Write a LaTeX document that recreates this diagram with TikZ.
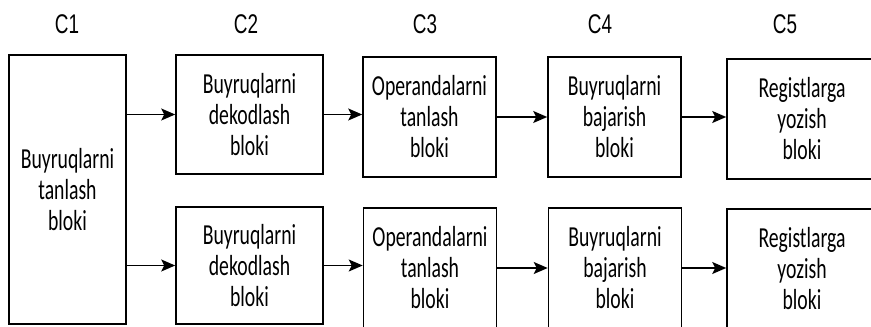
\documentclass[tikz,border=0pt]{standalone}
\usepackage{fontspec}
\usetikzlibrary{positioning, calc, arrows.meta}
\newfontfamily\bloccofont{Carlito}[FakeStretch=0.68]
\newfontfamily\stadiofont{Liberation Sans}[FakeStretch=0.7]

\begin{document}
\begin{tikzpicture}[x=0.5pt,y=0.5pt,
        blocco/.style={draw, line width=0.8pt, rectangle, align=center, inner sep=0pt,
            font=\bloccofont\fontsize{14.5pt}{15.5pt}\selectfont},
        stadio/.style={font=\stadiofont\fontsize{13.5pt}{15pt}\selectfont},
        freccia/.style={line width=0.8pt, -{Stealth[length=7pt,width=6pt,inset=1.5pt]}}]
        \useasboundingbox (0,0) rectangle (871,326);
        \clip (0,0) rectangle (871,326);
        %etichette stadi
            \node[stadio] (s1) at (67,302) {C1};
            \node[stadio] (s2) at (246,302) {C2};
            \node[stadio] (s3) at (425,302) {C3};
            \node[stadio] (s4) at (600,302) {C4};
            \node[stadio] (s5) at (785,302) {C5};
        %blocco iniziale
            \node[blocco, minimum width=58.5pt, minimum height=134.5pt] (c1) at (67.5,136.5) {Buyruqlarni\\tanlash\\bloki};
        %riga superiore
            \node[blocco, minimum width=73.5pt, minimum height=59.5pt] (c2a) at (249.5,211.5) {Buyruqlarni\\dekodlash\\bloki};
            \node[blocco, minimum width=66.5pt, minimum height=60pt] (c3a) at (429.5,209) {Operandalarni\\tanlash\\bloki};
            \node[blocco, minimum width=66.5pt, minimum height=60pt] (c4a) at (614.5,209) {Buyruqlarni\\bajarish\\bloki};
            \node[blocco, minimum width=75pt, minimum height=60pt] (c5a) at (802,207) {Registlarga\\yozish\\bloki};
        %riga inferiore
            \node[blocco, minimum width=73.5pt, minimum height=58.5pt] (c2b) at (249.5,60.5) {Buyruqlarni\\dekodlash\\bloki};
            \node[blocco, minimum width=66.5pt, minimum height=60pt] (c3b) at (430,58) {Operandalarni\\tanlash\\bloki};
            \node[blocco, minimum width=66.5pt, minimum height=60pt] (c4b) at (615,58) {Buyruqlarni\\bajarish\\bloki};
            \node[blocco, minimum width=75pt, minimum height=60pt] (c5b) at (802,57) {Registlarga\\yozish\\bloki};
        %collegamenti
            \draw[freccia] (c1.east |- c2a.west) -- (c2a.west);
            \draw[freccia] (c1.east |- c2b.west) -- (c2b.west);
            \draw[freccia] (c2a.east) -- (c2a.east -| c3a.west);
            \draw[freccia] (c2b.east) -- (c2b.east -| c3b.west);
            \draw[freccia] (c3a.east) -- (c3a.east -| c4a.west);
            \draw[freccia] (c3b.east) -- (c3b.east -| c4b.west);
            \draw[freccia] (c4a.east) -- (c4a.east -| c5a.west);
            \draw[freccia] (c4b.east) -- (c4b.east -| c5b.west);
    \end{tikzpicture}
\end{document}
